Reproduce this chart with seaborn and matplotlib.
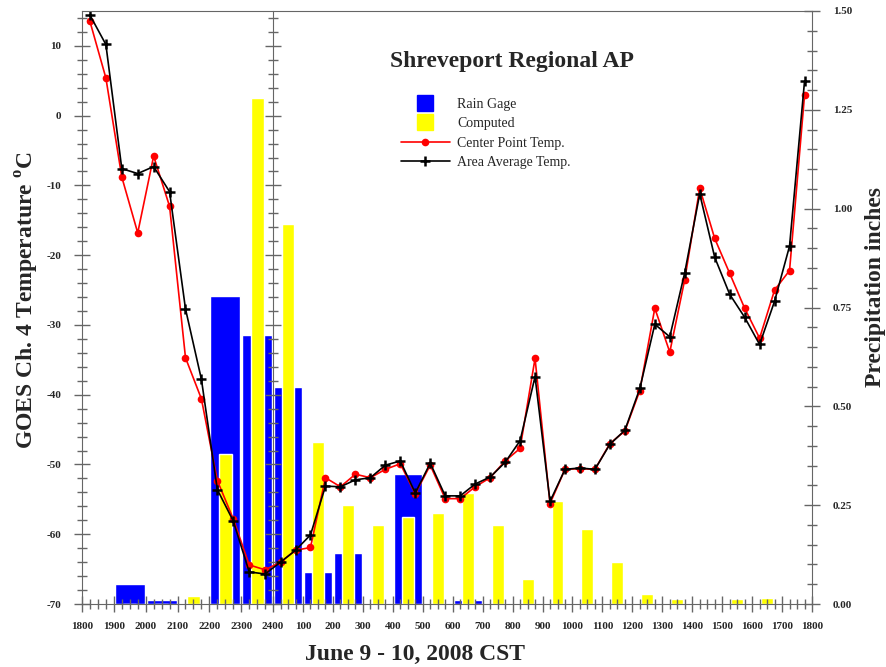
import matplotlib.pyplot as plt
from matplotlib.lines import Line2D
from matplotlib.ticker import MultipleLocator, FixedLocator
import numpy as np
import seaborn as sns

# x axis: hours after 1800 CST on June 9
hour_labels = ['1800', '1900', '2000', '2100', '2200', '2300', '2400',
               '100', '200', '300', '400', '500', '600', '700', '800', '900',
               '1000', '1100', '1200', '1300', '1400', '1500', '1600', '1700', '1800']

# GOES scans at :15 and :45
scan_hours = np.arange(0.25, 24, 0.5)
center_temp = [13.5, 5.4, -8.8, -16.8, -5.8, -13.0, -34.7, -40.6, -52.3, -57.8, -64.4, -65.1,
               -64.0, -62.3, -61.9, -51.9, -53.2, -51.4, -51.9, -50.7, -49.9, -54.2, -50.1, -54.9,
               -54.9, -53.2, -51.9, -49.5, -47.7, -34.8, -55.6, -50.7, -50.6, -50.7, -47.0, -45.2,
               -39.4, -27.6, -33.9, -23.5, -10.4, -17.6, -22.6, -27.6, -31.9, -25.0, -22.2, 2.9]
area_temp = [14.4, 10.2, -7.6, -8.3, -7.3, -10.9, -27.7, -37.8, -53.6, -58.1, -65.4, -65.7,
             -64.0, -62.3, -60.1, -53.1, -53.2, -52.2, -51.9, -50.1, -49.5, -54.1, -49.8, -54.5,
             -54.5, -52.8, -51.8, -49.7, -46.6, -37.4, -55.3, -50.7, -50.5, -50.7, -47.1, -45.1,
             -39.1, -29.9, -31.7, -22.5, -11.2, -20.3, -25.6, -28.9, -32.8, -26.6, -18.7, 4.9]

# hourly precipitation (inches)
gage_hours = np.arange(0.5, 24, 1)
rain_gage = [0, 0.05, 0.01, 0, 0.78, 0.68, 0.55, 0.08, 0.13, 0, 0.33, 0,
             0.01, 0, 0, 0, 0, 0, 0, 0, 0, 0, 0, 0]
computed = [0, 0, 0, 0.02, 0.38, 1.28, 0.96, 0.41, 0.25, 0.20, 0.22, 0.23,
            0.28, 0.20, 0.064, 0.26, 0.19, 0.106, 0.025, 0.012, 0.003, 0.012, 0.015, 0.003]

sns.set_style('ticks')
plt.rcParams['font.family'] = ['Liberation Serif', 'DejaVu Serif']
plt.rcParams['mathtext.fontset'] = 'custom'
plt.rcParams['mathtext.rm'] = 'Liberation Serif:bold'

# the first six hours are drawn a little wider than the rest
k = 31.8 / 29.9
def fwd(x):
    x = np.asarray(x, float)
    return np.where(x < 6, x * k, 6 * k + (x - 6))
def inv(y):
    y = np.asarray(y, float)
    return np.where(y < 6 * k, y / k, y - 6 * k + 6)

grey = '#666666'
fig = plt.figure(figsize=(8.87, 6.67), dpi=100)
ax = fig.add_axes([82/887, 1-604/667, 730/887, 593/667])
ax2 = ax.twinx()
ax3 = ax.twinx()
ax2.set_zorder(0)
ax3.set_zorder(1)
ax.set_zorder(2)
ax.patch.set_visible(False)

ax2.bar(gage_hours, rain_gage, width=0.94, color='#0000FF', zorder=1)
ax2.bar(gage_hours, computed, width=0.4, color='#FFFF00', zorder=2)

sns.lineplot(x=scan_hours, y=center_temp, ax=ax, color='#FF0000', marker='o', markersize=5.5,
             mec='#FF0000', mew=0, linewidth=1.2)
sns.lineplot(x=scan_hours, y=area_temp, ax=ax, color='black', marker='+', markersize=7,
             mec='black', mew=1.8, linewidth=1.2)

ax.set_xscale('function', functions=(fwd, inv))
ax.set_xlim(0, 24)
ax.set_xlabel('')
ax.set_ylabel('')

ax.set_xticks(np.arange(25))
ax.set_xticklabels(hour_labels, fontweight='bold', fontsize=8)
ax.xaxis.set_minor_locator(FixedLocator(np.arange(0, 24.01, 0.25)))

ax.set_ylim(-70, 15)
ax.set_yticks(range(-70, 11, 10))
ax.set_yticklabels([str(v) for v in range(-70, 11, 10)], fontweight='bold', fontsize=8)
ax.yaxis.set_minor_locator(MultipleLocator(2))

ax2.set_ylim(0, 1.5)
ax2.set_yticks(np.arange(0, 1.51, 0.25))
ax2.set_yticklabels([f'{v:.2f}' for v in np.arange(0, 1.51, 0.25)], fontweight='bold', fontsize=8)
ax2.yaxis.set_minor_locator(MultipleLocator(0.05))

# midnight divider with its own temperature ticks
ax3.set_ylim(-70, 15)
ax3.set_yticks(range(-70, 15, 10))
ax3.set_yticklabels([])
ax3.yaxis.set_minor_locator(MultipleLocator(2))
ax3.spines['right'].set_position(('data', 6))

ax.tick_params(axis='x', which='major', direction='inout', length=11, width=1, color=grey, pad=7.5)
ax.tick_params(axis='x', which='minor', direction='inout', length=6.5, width=1, color=grey)
for a, side in ((ax, 'left'), (ax2, 'right'), (ax3, 'right')):
    a.tick_params(axis='y', which='major', direction='inout', length=12, width=1, color=grey, pad=9)
    a.tick_params(axis='y', which='minor', direction='inout', length=7, width=1, color=grey)
    for s in ('left', 'right', 'top', 'bottom'):
        a.spines[s].set_visible(False)
    a.spines[side].set_visible(True)
    a.spines[side].set_color(grey)
for s in ('top', 'bottom'):
    ax.spines[s].set_visible(True)
    ax.spines[s].set_color(grey)

fig.text(512/887, 1-62/667, 'Shreveport Regional AP', ha='center', va='center',
         fontsize=17, fontweight='bold')
fig.text(415/887, 1-654/667, 'June 9 - 10, 2008 CST', ha='center', va='center',
         fontsize=17, fontweight='bold')
fig.text(27/887, 1-300/667, r'GOES Ch. 4 Temperature $^{\mathrm{o}}$C', ha='center', va='center',
         rotation=90, fontsize=17, fontweight='bold')
fig.text(876/887, 1-287/667, 'Precipitation inches', ha='center', va='center',
         rotation=90, fontsize=17, fontweight='bold')

handles = [
    Line2D([], [], linestyle='none', marker='s', markersize=11, color='#0000FF'),
    Line2D([], [], linestyle='none', marker='s', markersize=11, color='#FFFF00'),
    Line2D([], [], color='#FF0000', marker='o', markersize=5.5, mew=0, linewidth=1.2),
    Line2D([], [], color='black', marker='+', markersize=7, mew=1.8, linewidth=1.2),
]
labels = ['Rain Gage', 'Computed', 'Center Point Temp.', 'Area Average Temp.']
fig.legend(handles, labels, loc='upper left', bbox_to_anchor=(401/887, 1-98/667),
           frameon=False, fontsize=10, handlelength=3.5, handletextpad=0.55,
           labelspacing=0.45, borderpad=0, borderaxespad=0)

fig.savefig('out.png', dpi=100)
